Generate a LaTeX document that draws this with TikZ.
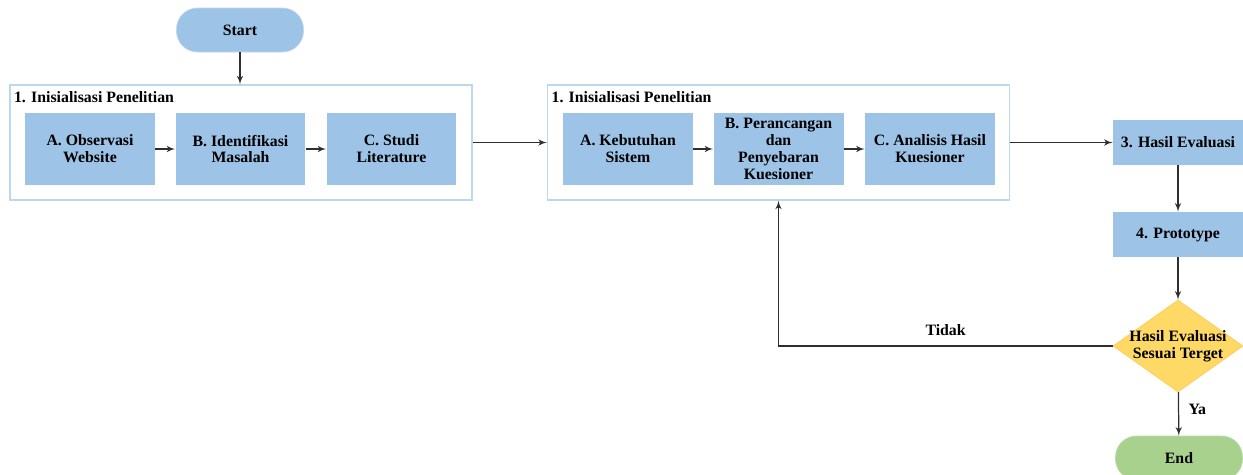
\documentclass[tikz,border=0pt]{standalone}
\usepackage{fontspec}
\setmainfont{Liberation Serif}
\usetikzlibrary{arrows,positioning,shapes.geometric}
\definecolor{kotak}{HTML}{9DC3E6}
\definecolor{bingkai}{HTML}{BDD7EE}
\definecolor{kuning}{HTML}{FFD966}
\definecolor{hijau}{HTML}{A9D18E}
\definecolor{garis}{HTML}{2E2E2E}
\tikzset{>=latex',
	teks/.style={font=\bfseries\fontsize{9}{9.6}\selectfont, align=center},
	proses/.style={teks, rectangle, fill=kotak, inner sep=1pt,
		minimum width=2.6cm, minimum height=1.44cm},
	kecil/.style={proses, minimum height=0.9cm},
	terminal/.style={teks, rectangle, rounded corners=0.42cm,
		minimum width=2.54cm, minimum height=0.88cm},
	kelompok/.style={rectangle, draw=bingkai, line width=0.8pt,
		minimum width=9.24cm, minimum height=2.3cm},
	judul/.style={teks, inner sep=1pt},
	keputusan/.style={diamond, fill=kuning, draw=kuning!85!orange,
		inner sep=0pt, minimum width=2.6cm, minimum height=1.84cm},
	panah/.style={->, draw=garis, line width=0.7pt}}

\begin{document}
\begin{tikzpicture}[x=0.02cm, y=-0.02cm]
	\useasboundingbox (0,0) rectangle (1243,474);
	% mulai
	\node (start) [terminal, fill=kotak, draw=bingkai] at (240,30) {Start};
	% tahap 1
	\node (g1) [kelompok] at (241,142.5) {};
	\node (j1) [judul, below right=3pt and 1.5pt of g1.north west] {1. Inisialisasi Penelitian};
	\node (a1) [proses] at (90,149) {A. Observasi\\Website};
	\node (b1) [proses] at (240.5,149) {B. Identifikasi\\Masalah};
	\node (c1) [proses] at (391.5,149) {C. Studi\\Literature};
	% tahap 2
	\node (g2) [kelompok] at (778.5,142.5) {};
	\node (j2) [judul, below right=3pt and 1.5pt of g2.north west] {1. Inisialisasi Penelitian};
	\node (a2) [proses] at (628,149) {A. Kebutuhan\\Sistem};
	\node (b2) [proses] at (778.5,149) {B. Perancangan\\dan\\Penyebaran\\Kuesioner};
	\node (c2) [proses] at (930,149) {C. Analisis Hasil\\Kuesioner};
	% evaluasi
	\node (hasil) [kecil] at (1178,142.5) {3. Hasil Evaluasi};
	\node (proto) [kecil] at (1178,234.5) {4. Prototype};
	\node (cek) [keputusan, label={[teks]center:Hasil Evaluasi\\Sesuai Terget}] at (1178,346) {};
	\node (end) [terminal, fill=hijau, draw=hijau!80!white] at (1179,458) {End};

	\draw[panah] (start) -- (start |- g1.north);
	\draw[panah] (a1) -- (b1);
	\draw[panah] (b1) -- (c1);
	\draw[panah] (g1) -- (g2);
	\draw[panah] (a2) -- (b2);
	\draw[panah] (b2) -- (c2);
	\draw[panah] (g2.east |- hasil) -- (hasil);
	\draw[panah] (hasil) -- (proto);
	\draw[panah] (proto) -- (cek);
	\draw[panah] (cek) -- node[teks, right=2pt, pos=0.4] {Ya} (end);
	\draw[panah] (cek.west) -| node[teks, above=2pt, pos=0.25] {Tidak} (b2 |- g2.south);
\end{tikzpicture}
\end{document}
